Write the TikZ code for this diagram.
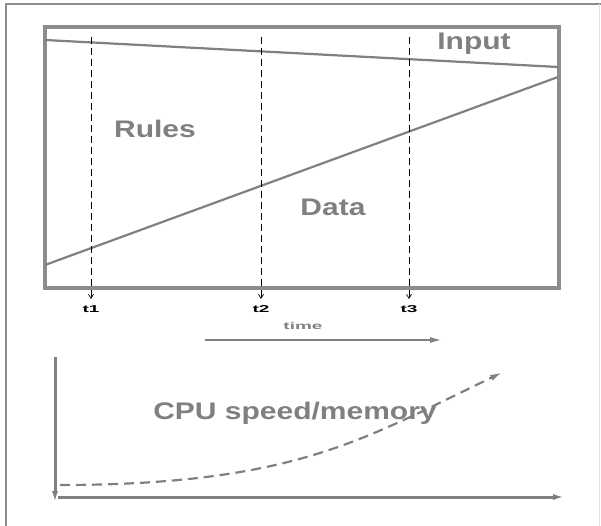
\documentclass[tikz,border=0pt]{standalone}
\usepackage{fontspec}
\setmainfont{Liberation Sans}
\usepackage{tikz}
\usetikzlibrary{arrows.meta,positioning}
\definecolor{ink}{HTML}{808080}
\definecolor{frame}{HTML}{8C8C8C}

\begin{document}
\begin{tikzpicture}[x=1pt, y=-1pt,
  big/.style={text=ink, font=\fontsize{24}{26}\selectfont\bfseries,
              xscale=1.25, transform shape, inner sep=0pt},
  tick/.style={text=black, font=\fontsize{10}{12}\selectfont\bfseries,
               xscale=1.9, transform shape, inner sep=0pt},
  moment/.style={draw=black, line width=0.7pt, dash pattern=on 7pt off 4pt,
               -{Straight Barb[length=4pt,width=5pt]}},
  share/.style={draw=ink, line width=2.2pt},
  axis/.style={draw=ink, line width=3pt, -{Latex[length=13pt,width=6pt]}},
  trend/.style={draw=ink, line width=2.2pt, dash pattern=on 10pt off 6pt,
                -{Latex[length=13pt,width=6pt]}}
]
\useasboundingbox (0,0) rectangle (601,526);
% outer frame
\draw[frame, line width=2.5pt] (6,526) -- (6,4) -- (601,4);
\draw[frame!25, line width=1pt] (599,4) -- (599,526);

% share of rules and data
\draw[frame, line width=3.5pt] (45,27) rectangle (559,288);
\coordinate (inL) at (45,40);
\coordinate (inR) at (558,67);
\coordinate (daL) at (45,265);
\coordinate (daR) at (558,77);
\draw[share] (inL) -- (inR);
\draw[share] (daL) -- (daR);
\node[big] (input) at (474,44) {Input};
\node[big] (rules) at (155,129) {Rules};
\node[big] (data) at (333,207) {Data};

% moments
\foreach \n/\x in {1/91, 2/261, 3/409} {
  \coordinate (top\n) at (\x,37);
  \coordinate (end\n) at (\x,299);
  \node[tick] (t\n) at (\x,309) {t\n};
  \draw[moment] (top\n) -- (end\n);
}
\node[tick, text=ink] (time) at (303,326) {time};
\coordinate (tS) at (205,340);
\coordinate (tE) at (443,340);
\draw[axis, line width=2.2pt] (tS) -- (tE);

% hardware growth
\coordinate (vT) at (55,357);
\coordinate (vB) at (55,504);
\coordinate (hL) at (58,497);
\coordinate (hR) at (566,497);
\draw[axis] (vT) -- (vB);
\draw[axis] (hL) -- (hR);
\node[big] (cpu) at (295,413) {CPU speed/memory};
\coordinate (cS) at (60,485);
\coordinate (cM) at (423,411);
\coordinate (cE) at (503,372);
\draw[trend] (cS) .. controls (260,485) and (340,450) .. (cM) -- (cE);
\end{tikzpicture}
\end{document}
